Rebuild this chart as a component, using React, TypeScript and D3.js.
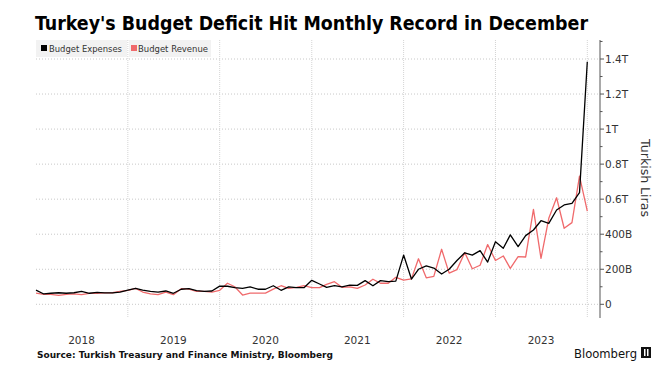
import React from "react";
import * as d3 from "d3";

// Monthly values in billions of Turkish Liras, Dec 2017 .. Dec 2023
const startMonth = new Date(2017, 11, 1);
const expenses = [
  81, 59, 63, 66, 63, 66, 74, 63, 68, 65, 65, 70,
  81, 91, 81, 74, 70, 76, 63, 86, 89, 78, 74, 76,
  104, 103, 95, 91, 99, 86, 86, 106, 80, 99, 95, 95,
  137, 116, 97, 106, 100, 110, 108, 135, 106, 135, 129, 132,
  281, 144, 200, 219, 207, 173, 200, 250, 294, 281, 306, 241,
  357, 320, 396, 329, 392, 424, 477, 462, 538, 567, 576, 637,
  1384,
];
const revenue = [
  64, 57, 57, 51, 57, 59, 55, 62, 63, 65, 66, 74,
  80, 91, 70, 59, 55, 70, 55, 89, 87, 74, 74, 70,
  80, 120, 100, 53, 64, 64, 64, 87, 106, 91, 97, 106,
  95, 95, 114, 129, 97, 100, 91, 110, 143, 120, 120, 154,
  138, 145, 260, 151, 159, 314, 178, 198, 295, 203, 223, 341,
  250, 276, 205, 272, 270, 542, 262, 491, 608, 434, 466, 732,
  532,
];
const years = [2018, 2019, 2020, 2021, 2022, 2023];
const yTicks = [0, 200, 400, 600, 800, 1000, 1200, 1400];
const yTickLabels = ["0", "200B", "400B", "0.6T", "0.8T", "1T", "1.2T", "1.4T"];
const yMinorTicks = [100, 300, 500, 700, 900, 1100, 1300, 1500];
const seriesNames = ["Budget Expenses", "Budget Revenue"];

const W = 667;
const H = 379;
const plotTop = 40;
const plotBottom = 318;
const plotLeft = 36;
const axisX = 600;
const BLACK = "#000000";
const RED = "#f06a6c";
const FONT = "'DejaVu Sans', Verdana, sans-serif";
const FONT_COND = "'DejaVu Sans Condensed', 'DejaVu Sans', sans-serif";

export default function App() {
  const x = d3
    .scaleTime()
    .domain([new Date(2018, 0, 1), new Date(2024, 0, 1)])
    .range([plotLeft, 587.3]);
  const y = d3.scaleLinear().domain([0, 1400]).range([304.3, 59]);

  const pointDate = (i: number) => d3.timeMonth.offset(startMonth, i + 1);
  const line = d3
    .line<number>()
    .x((_, i) => x(pointDate(i)))
    .y((d) => y(d));

  const gridYears = years.slice(1).concat([2024]);

  return (
    <svg width={W} height={H} style={{ display: "block", position: "absolute", left: 0, top: 0 }}>
      <rect x={0} y={0} width={W} height={H} fill="#ffffff" />
      {/* Title */}
      <text
        x={35}
        y={30}
        fontFamily={FONT_COND}
        fontWeight="bold"
        fontSize={20}
        fill="#000"
        textLength={553}
        lengthAdjust="spacingAndGlyphs"
      >
        Turkey's Budget Deficit Hit Monthly Record in December
      </text>

      {/* Horizontal grid */}
      {yTicks.map((t) => (
        <line
          key={"h" + t}
          x1={plotLeft}
          x2={axisX}
          y1={y(t)}
          y2={y(t)}
          stroke="#c8c8c8"
          strokeWidth={1}
          strokeDasharray="1,2"
        />
      ))}
      {/* Vertical grid */}
      {gridYears.map((yr) => (
        <line
          key={"v" + yr}
          x1={x(new Date(yr, 0, 1))}
          x2={x(new Date(yr, 0, 1))}
          y1={plotTop}
          y2={plotBottom}
          stroke="#d4d4d4"
          strokeWidth={1}
          strokeDasharray="1,1"
        />
      ))}

      {/* Legend */}
      <rect x={36} y={40} width={91} height={17} fill="#f2f2f2" />
      <rect x={129} y={40} width={82} height={17} fill="#f2f2f2" />
      <rect x={41} y={45} width={6} height={6} fill={BLACK} />
      <text x={49} y={51.5} fontFamily={FONT} fontSize={8.5} fill="#333" textLength={73} lengthAdjust="spacingAndGlyphs">
        {seriesNames[0]}
      </text>
      <rect x={131} y={45} width={6} height={6} fill={RED} />
      <text x={138} y={51.5} fontFamily={FONT} fontSize={8.5} fill="#333" textLength={70} lengthAdjust="spacingAndGlyphs">
        {seriesNames[1]}
      </text>

      {/* Lines */}
      <path d={line(revenue) || ""} fill="none" stroke={RED} strokeWidth={1.3} strokeLinejoin="round" />
      <path d={line(expenses) || ""} fill="none" stroke={BLACK} strokeWidth={1.3} strokeLinejoin="round" />

      {/* Right axis */}
      <line x1={axisX} x2={axisX} y1={plotTop} y2={plotBottom} stroke="#555" strokeWidth={1} />
      {yTicks.map((t, i) => (
        <g key={"yt" + t}>
          <line x1={axisX} x2={axisX + 4} y1={y(t)} y2={y(t)} stroke="#555" strokeWidth={1} />
          <text x={axisX + 5} y={y(t) + 4} fontFamily={FONT} fontSize={10.5} fill="#333">
            {yTickLabels[i]}
          </text>
        </g>
      ))}
      {yMinorTicks.map((t) => (
        <line key={"ym" + t} x1={axisX} x2={axisX + 2.5} y1={y(t)} y2={y(t)} stroke="#555" strokeWidth={1} />
      ))}
      <text
        transform={`translate(641,178) rotate(90)`}
        textAnchor="middle"
        fontFamily={FONT}
        fontSize={12.5}
        fill="#333"
        textLength={78}
        lengthAdjust="spacingAndGlyphs"
      >
        Turkish Liras
      </text>

      {/* X labels */}
      {years.map((yr) => (
        <text
          key={"x" + yr}
          x={x(new Date(yr, 6, 1))}
          y={344}
          textAnchor="middle"
          fontFamily={FONT}
          fontSize={10.5}
          fill="#333"
        >
          {yr}
        </text>
      ))}

      {/* Footer */}
      <text
        x={37}
        y={358}
        fontFamily={FONT}
        fontWeight="bold"
        fontSize={9.5}
        fill="#111"
        textLength={296}
        lengthAdjust="spacingAndGlyphs"
      >
        Source: Turkish Treasury and Finance Ministry, Bloomberg
      </text>
      <text
        x={574}
        y={358}
        fontFamily={FONT}
        fontSize={12.5}
        fill="#111"
        textLength={63}
        lengthAdjust="spacingAndGlyphs"
      >
        Bloomberg
      </text>
      <rect x={641} y={347} width={10} height={11} fill="#111" />
      <rect x={644} y={349} width={1.5} height={7} fill="#fff" />
      <rect x={647} y={349} width={1.5} height={7} fill="#fff" />
    </svg>
  );
}
